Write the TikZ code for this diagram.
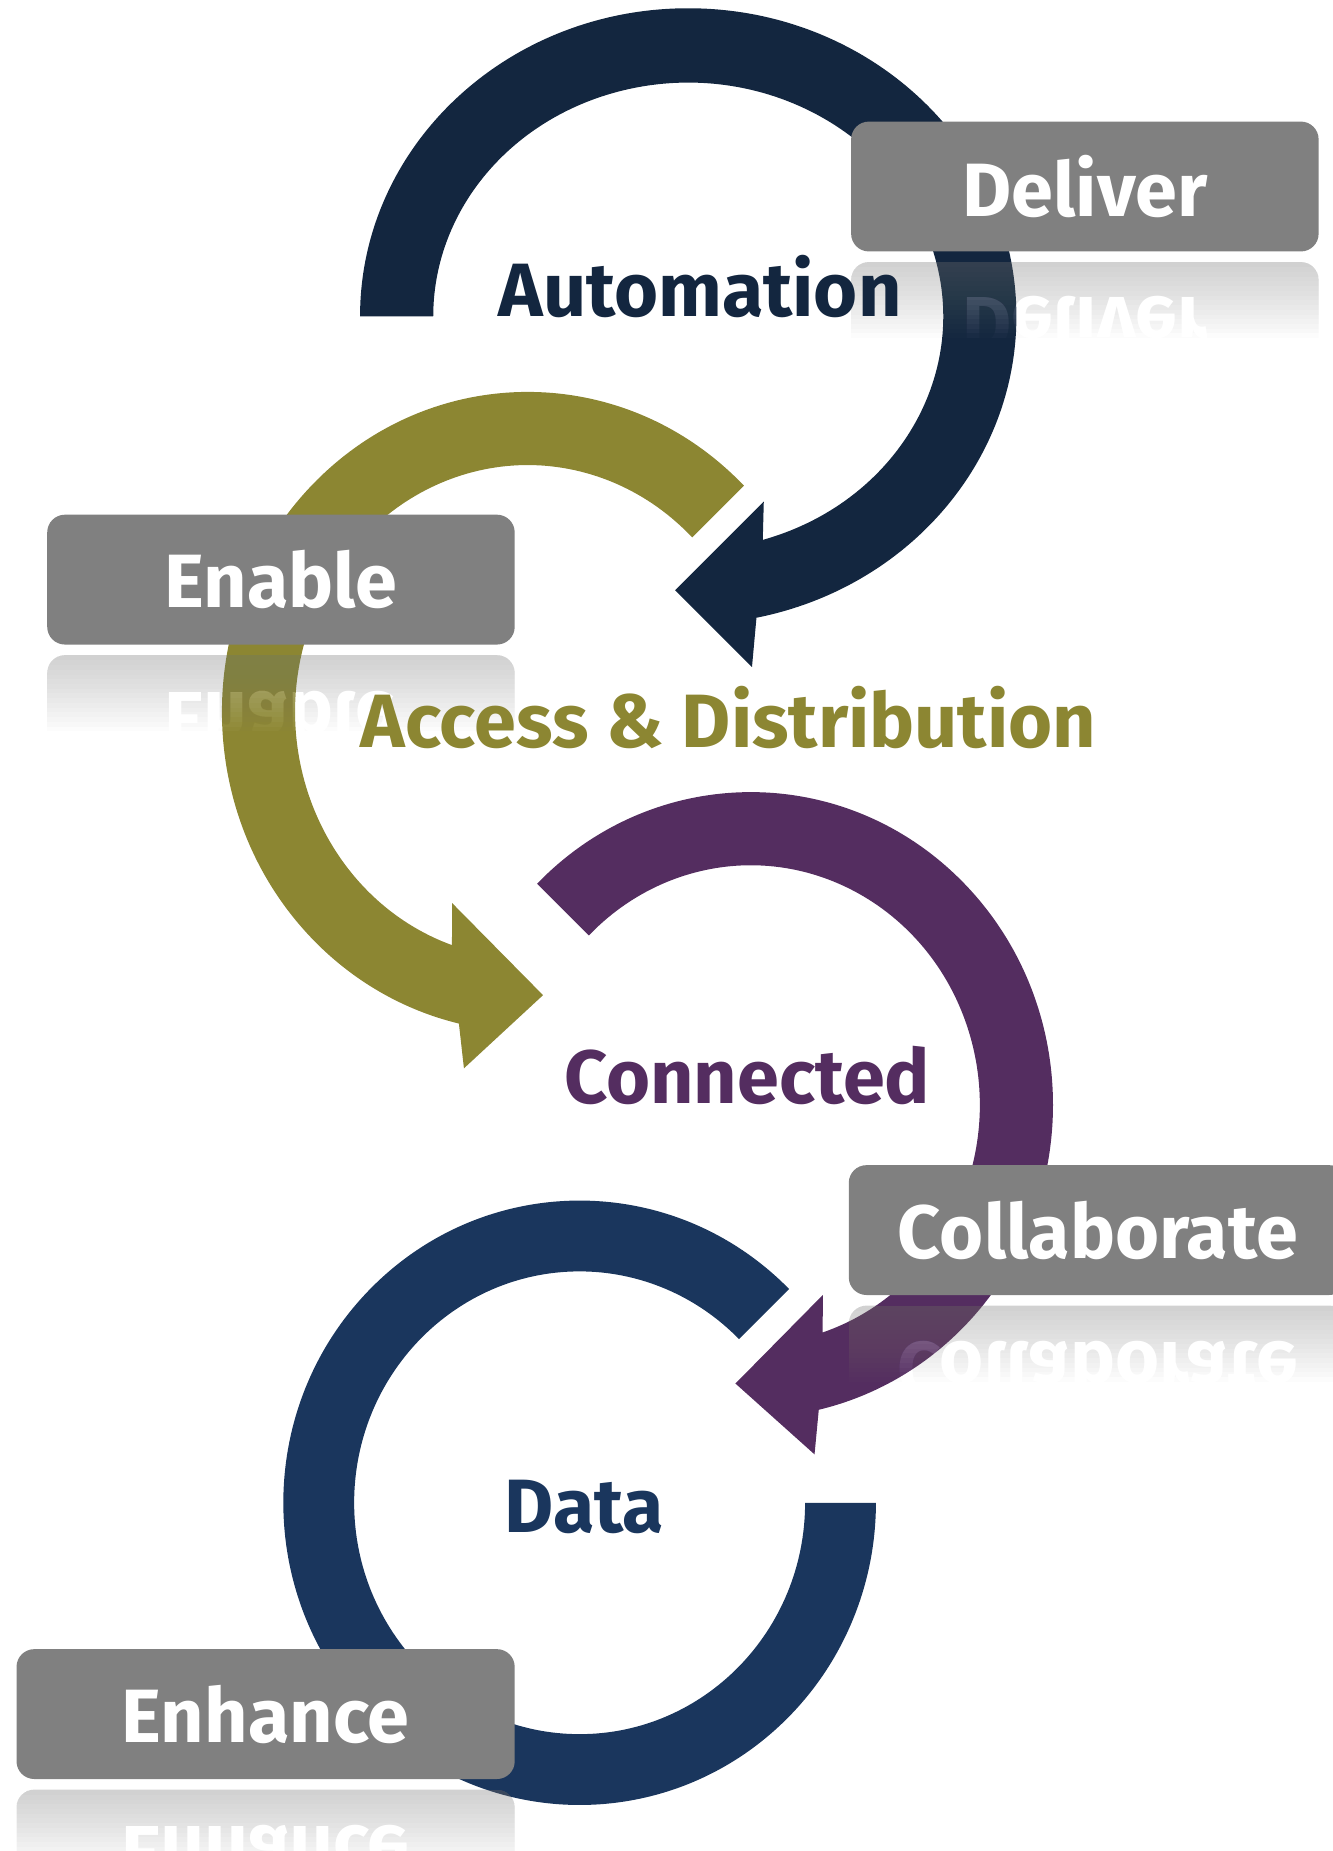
\documentclass[tikz,border=0pt]{standalone}
\usepackage{fontspec}
\setmainfont{Fira Sans}
\usetikzlibrary{positioning,calc}

\definecolor{autonavy}{HTML}{13263F}
\definecolor{accessolive}{HTML}{8C8632}
\definecolor{connpurple}{HTML}{542D60}
\definecolor{datablue}{HTML}{1A365D}
\definecolor{taggray}{HTML}{808080}

\tikzset{
  tag/.style={fill=taggray, rounded corners=15pt, text=white, minimum height=110pt,
    inner sep=0pt, font=\fontsize{64}{72}\selectfont\bfseries},
  cyclelabel/.style={anchor=base, font=\fontsize{64}{72}\selectfont\bfseries}
}

% upside-down copy of a tag under its box; stacked thin layers make it fade out
\newcommand{\tagmirror}[5]{% name, x, y, width, text
  \foreach \k in {0,...,15}{
    \begin{scope}
      \clip (#2-#4/2-2,#3-64) rectangle (#2+#4/2+2,#3-68-4*\k);
      \begin{scope}[transparency group, opacity=0.0294]
        \node[tag, minimum width=#4pt, yscale=-1, transform shape] (#1-\k) at (#2,#3-119) {#5};
      \end{scope}
    \end{scope}}}

\begin{document}
\begin{tikzpicture}[x=1pt, y=1pt]
  \useasboundingbox (0,0) rectangle (1129,-1568);

  % centres of the four rings
  \coordinate (c1) at (583,-268);
  \coordinate (c2) at (447,-603);
  \coordinate (c3) at (636,-936);
  \coordinate (c4) at (491,-1273);

  % automation ring
  \fill[autonavy] ($(c1)+(180:278 and 261)$)
    arc[start angle=180, end angle=-78, x radius=278, y radius=261]
    -- (637,-565) -- (572,-500) -- (647,-425)
    -- ($(c1)+(-73:216 and 198)$)
    arc[start angle=-73, end angle=180, x radius=216, y radius=198] -- cycle;

  % access ring
  \fill[accessolive] ($(c2)+(45:259 and 271)$)
    arc[start angle=45, end angle=257, x radius=259, y radius=271]
    -- (393,-905) -- (460,-843) -- (383,-765)
    -- ($(c2)+(251:197 and 209)$)
    arc[start angle=251, end angle=45, x radius=197, y radius=209] -- cycle;

  % connected ring
  \fill[connpurple] ($(c3)+(135:256 and 265)$)
    arc[start angle=135, end angle=-77, x radius=256, y radius=265]
    -- (690,-1232) -- (623,-1172) -- (697,-1097)
    -- ($(c3)+(-71.7:194 and 203)$)
    arc[start angle=-71.7, end angle=135, x radius=194, y radius=203] -- cycle;

  % data ring
  \fill[datablue] ($(c4)+(45:251 and 256)$)
    arc[start angle=45, end angle=360, x radius=251, y radius=256]
    -- ($(c4)+(0:191 and 196)$)
    arc[start angle=360, end angle=45, x radius=191, y radius=196] -- cycle;

  % reflections
  \tagmirror{deliver-m}{919}{-158}{396}{Deliver}
  \tagmirror{enable-m}{238}{-491}{396}{Enable}
  \tagmirror{collab-m}{930}{-1042}{422}{Collaborate}
  \tagmirror{enhance-m}{225}{-1452}{422}{Enhance}

  % tags
  \node[tag, minimum width=396pt] (deliver) at (919,-158) {Deliver};
  \node[tag, minimum width=396pt] (enable) at (238,-491) {Enable};
  \node[tag, minimum width=422pt] (collab) at (930,-1042) {Collaborate};
  \node[tag, minimum width=422pt] (enhance) at (225,-1452) {Enhance};

  % ring labels
  \node[cyclelabel, text=autonavy] (automation) at (593,-268) {Automation};
  \node[cyclelabel, text=accessolive] (access) at (617,-633) {Access \& Distribution};
  \node[cyclelabel, text=connpurple] (connected) at (633,-935) {Connected};
  \node[cyclelabel, text=datablue] (data) at (495,-1298) {Data};
\end{tikzpicture}
\end{document}
